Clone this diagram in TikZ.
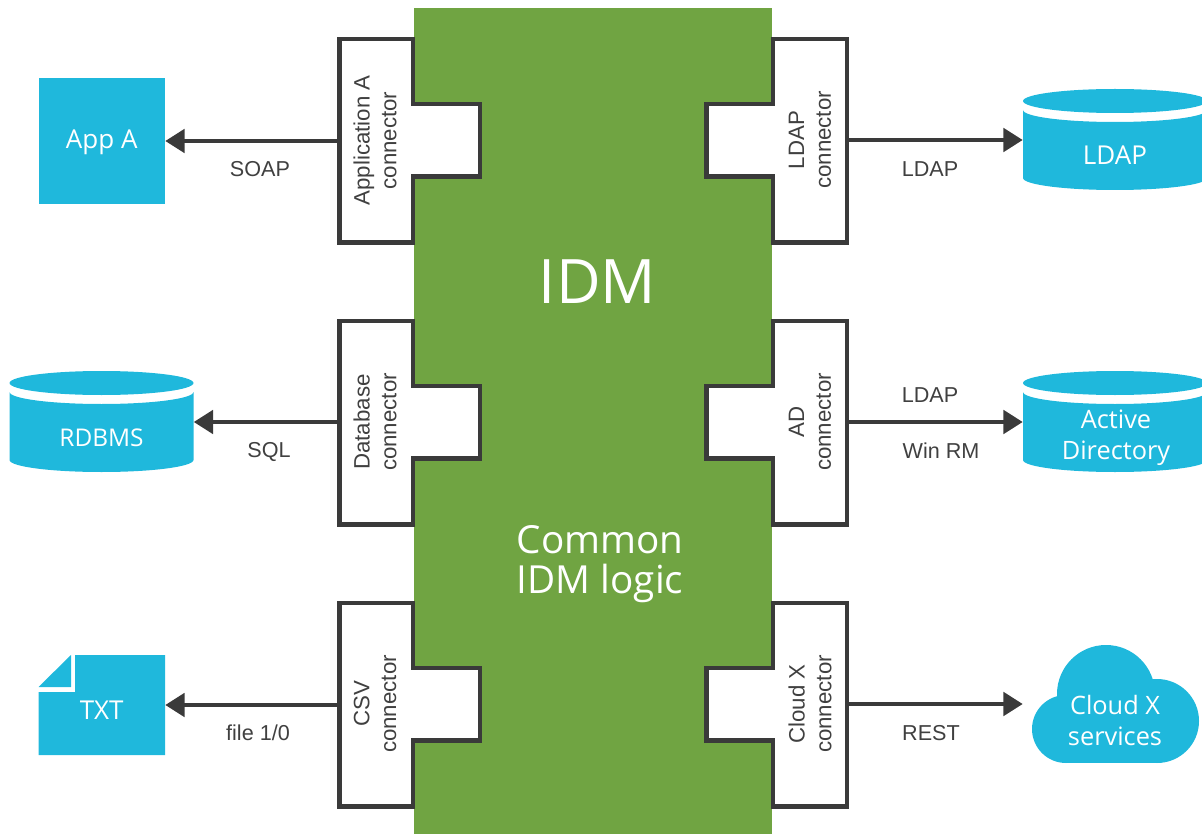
\documentclass[tikz,border=0pt]{standalone}
\usepackage{fontspec}
\setmainfont{Liberation Sans}
\newfontfamily\segoe{Open Sans}
\usetikzlibrary{arrows.meta}
\definecolor{idmblue}{HTML}{1FB8DC}
\definecolor{idmgreen}{HTML}{70A442}
\definecolor{idmdark}{HTML}{3A3A3A}
\definecolor{idmtext}{HTML}{404040}
\tikzset{
  connshape/.style={draw=idmdark,fill=white,line width=3.2pt,miter limit=10},
  connlabel/.style={rotate=90,align=center,text=idmtext,inner sep=0pt,font=\fontsize{16.7}{20}\selectfont},
  proto/.style={text=idmtext,inner sep=0pt,font=\fontsize{16.2}{19}\selectfont},
  link/.style={draw=idmdark,line width=3pt,-{Triangle[length=14.5pt,width=17.5pt]}},
  blocktext/.style={text=white,inner sep=0pt,align=center,font=\segoe\fontsize{19.5}{23.6}\selectfont},
  shapebox/.style 2 args={inner sep=0pt,minimum width=#1*0.75pt,minimum height=#2*0.75pt},
  squarebox/.style={shapebox={126.5}{126},fill=idmblue},
}
\newcommand{\cylshape}[2]{%
  \begin{scope}[shift={(#1,#2)}]
    \fill[idmblue] (-92,-30) .. controls (-92,-23.4) and (-50.8,-18) .. (0,-18)
      .. controls (50.8,-18) and (92,-23.4) .. (92,-30) -- (92,38)
      .. controls (92,44.6) and (50.8,50) .. (0,50)
      .. controls (-50.8,50) and (-92,44.6) .. (-92,38) -- cycle;
    \fill[idmblue] (0,-39) ellipse[x radius=92,y radius=12];
  \end{scope}}
\begin{document}
\begin{tikzpicture}[x=0.75pt,y=-0.75pt]
\useasboundingbox (0,0) rectangle (1202,834);
\clip (0,0) rectangle (1202,834);
% central block
\fill[idmgreen] (414,8) rectangle (772,834);
\node[blocktext,font=\segoe\fontsize{46}{52}\selectfont] (idm) at (597.5,282) {IDM};
\node[blocktext,font=\segoe\fontsize{29}{30}\selectfont] (logic) at (600,564) {Common\\IDM logic};
% connector outlines
\foreach \r in {0,282,564}{
  \draw[connshape] (413,39+\r) -- (339.5,39+\r) -- (339.5,242.5+\r) -- (413,242.5+\r)
     -- (413,176.5+\r) -- (480,176.5+\r) -- (480,104+\r) -- (413,104+\r) -- cycle;
  \draw[connshape] (773,39+\r) -- (847,39+\r) -- (847,242.5+\r) -- (773,242.5+\r)
     -- (773,176.5+\r) -- (706.5,176.5+\r) -- (706.5,104+\r) -- (773,104+\r) -- cycle;
}
% connector labels
\node[connlabel] (ca) at (375,140.5) {Application A\\connector};
\node[connlabel] (cb) at (375,422) {Database\\connector};
\node[connlabel] (cc) at (375,704) {CSV\\connector};
\node[connlabel] (cd) at (810,140) {LDAP\\connector};
\node[connlabel] (ce) at (810,422) {AD\\connector};
\node[connlabel] (cf) at (810,704) {Cloud X\\connector};
% connector edge points
\coordinate (ea) at (339.5,141);
\coordinate (eb) at (339.5,422);
\coordinate (ec) at (339.5,705);
\coordinate (ed) at (847,140);
\coordinate (ee) at (847,422);
\coordinate (ef) at (847,704);
% App A
\node[squarebox] (appa) at (101.75,141) {};
\node[blocktext] (appat) at (101.75,142.5) {App A};
% RDBMS
\cylshape{101.5}{422}
\node[shapebox={184}{101}] (rdbms) at (101.5,422) {};
\node[blocktext,font=\segoe\fontsize{18.3}{22}\selectfont] (rdbmst) at (101.5,437.5) {RDBMS};
% TXT
\fill[idmblue] (75,655) -- (165,655) -- (165,755) -- (38.5,755) -- (38.5,692) -- (75,692) -- cycle;
\fill[idmblue] (38.5,687) -- (71,655) -- (71,687) -- cycle;
\node[shapebox={126.5}{100}] (txt) at (101.75,705) {};
\node[blocktext] (txtt) at (101.75,710) {TXT};
% LDAP
\cylshape{1115}{140}
\node[shapebox={184}{101}] (ldap) at (1115,140) {};
\node[blocktext] (ldapt) at (1115,155) {LDAP};
% Active Directory
\cylshape{1115}{422}
\node[shapebox={184}{101}] (ad) at (1115,422) {};
\node[blocktext,font=\segoe\fontsize{19}{23.4}\selectfont] (adt) at (1116,438) {Active\\Directory};
% Cloud
\fill[idmblue] (1066,729) circle[radius=34];
\fill[idmblue] (1106,694) circle[radius=49];
\fill[idmblue] (1157,721) circle[radius=42];
\fill[idmblue] (1066,729) rectangle (1157,763);
\node[shapebox={167}{118}] (cloud) at (1115.5,704) {};
\node[blocktext,font=\segoe\fontsize{19}{23.4}\selectfont] (cloudt) at (1115,720.5) {Cloud X\\services};
% links
\draw[link] (ea) -- (appa);
\draw[link] (eb) -- (rdbms);
\draw[link] (ec) -- (txt);
\draw[link] (ed) -- (ldap);
\draw[link] (ee) -- (ad);
\draw[link,shorten >=6.75pt] (ef) -- (cloud);
% link labels
\node[proto] (p1) at (260,169) {SOAP};
\node[proto] (p2) at (269,452) {SQL};
\node[proto] (p3) at (258,733) {file 1/0};
\node[proto] (p4) at (930,169) {LDAP};
\node[proto] (p5) at (930,395) {LDAP};
\node[proto] (p6) at (941,451) {Win RM};
\node[proto] (p7) at (931,733) {REST};
\end{tikzpicture}
\end{document}
